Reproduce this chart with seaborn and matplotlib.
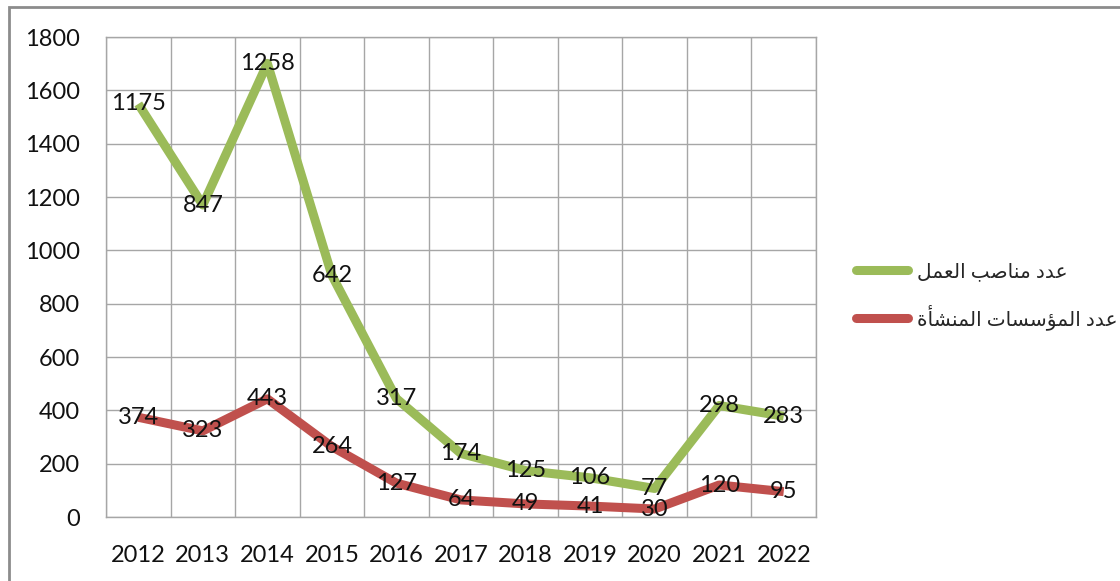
import numpy as np
import pandas as pd
import matplotlib
matplotlib.use("Agg")
import matplotlib.pyplot as plt
import seaborn as sns
from matplotlib.patches import Rectangle

# ---- data ----
years = ['2012', '2013', '2014', '2015', '2016', '2017', '2018', '2019', '2020', '2021', '2022']
jobs = [1175, 847, 1258, 642, 317, 174, 125, 106, 77, 298, 283]     # عدد مناصب العمل
firms = [374, 323, 443, 264, 127, 64, 49, 41, 30, 120, 95]          # عدد المؤسسات المنشأة
yticks = [0, 200, 400, 600, 800, 1000, 1200, 1400, 1600, 1800]
label_jobs = 'عدد مناصب العمل'
label_firms = 'عدد المؤسسات المنشأة'

GREEN = '#9BBB59'
RED = '#C0504D'
GRID = '#A6A6A6'

# ---- tiny Arabic shaper (matplotlib does no shaping / bidi) ----
FORMS = {  # isolated, final, initial, medial
    'ا': ('\uFE8D', '\uFE8E', None, None),
    'أ': ('\uFE83', '\uFE84', None, None),
    'ؤ': ('\uFE85', '\uFE86', None, None),
    'د': ('\uFEA9', '\uFEAA', None, None),
    'ة': ('\uFE93', '\uFE94', None, None),
    'ب': ('\uFE8F', '\uFE90', '\uFE91', '\uFE92'),
    'ت': ('\uFE95', '\uFE96', '\uFE97', '\uFE98'),
    'س': ('\uFEB1', '\uFEB2', '\uFEB3', '\uFEB4'),
    'ش': ('\uFEB5', '\uFEB6', '\uFEB7', '\uFEB8'),
    'ص': ('\uFEB9', '\uFEBA', '\uFEBB', '\uFEBC'),
    'ع': ('\uFEC9', '\uFECA', '\uFECB', '\uFECC'),
    'ل': ('\uFEDD', '\uFEDE', '\uFEDF', '\uFEE0'),
    'م': ('\uFEE1', '\uFEE2', '\uFEE3', '\uFEE4'),
    'ن': ('\uFEE5', '\uFEE6', '\uFEE7', '\uFEE8'),
}


def dual(ch):
    return ch in FORMS and FORMS[ch][2] is not None


def shape(text):
    out = []
    for i, ch in enumerate(text):
        if ch not in FORMS:
            out.append(ch)
            continue
        prev = text[i - 1] if i > 0 else ''
        nxt = text[i + 1] if i + 1 < len(text) else ''
        jp = dual(prev)
        jn = dual(ch) and nxt in FORMS
        iso, fin, ini, med = FORMS[ch]
        if jp and jn:
            out.append(med)
        elif jp:
            out.append(fin)
        elif jn:
            out.append(ini)
        else:
            out.append(iso)
    return ''.join(out)[::-1]


# stacked line chart: the upper series sits on top of the lower one
df = pd.DataFrame({'year': years, 'firms': firms, 'jobs': jobs})
df['jobs_top'] = df['firms'] + df['jobs']

sns.set_theme(style='white')
plt.rcParams['font.family'] = ['Lato', 'DejaVu Sans']

fig = plt.figure(figsize=(11.2, 5.81), dpi=100)
ax = fig.add_axes([106 / 1120, 1 - 517 / 581, 710 / 1120, 480 / 581])

sns.lineplot(data=df, x='year', y='jobs_top', color=GREEN, lw=6.5, ax=ax,
             label=shape(label_jobs), solid_capstyle='butt', sort=False)
sns.lineplot(data=df, x='year', y='firms', color=RED, lw=6.5, ax=ax,
             label=shape(label_firms), solid_capstyle='butt', sort=False)

# data labels centred on the points
for i in range(len(years)):
    ax.text(i, df['jobs_top'][i], str(jobs[i]), ha='center', va='center',
            fontsize=17, color='#111111')
    ax.text(i, firms[i], str(firms[i]), ha='center', va='center',
            fontsize=17, color='#111111')

ax.set_xlim(-0.5, len(years) - 0.5)
ax.set_ylim(0, 1800)
ax.set_yticks(yticks)
ax.set_xticks(range(len(years)))
ax.set_xticklabels(years)
ax.set_xticks(np.arange(-0.5, len(years)), minor=True)
ax.tick_params(axis='x', which='major', length=0, pad=20, labelsize=17, labelcolor='#111111')
ax.tick_params(axis='x', which='minor', length=9, width=1, color=GRID, direction='out')
ax.tick_params(axis='y', length=9, width=1, color=GRID, direction='out', pad=10,
               labelsize=17, labelcolor='#111111')
ax.set_xlabel('')
ax.set_ylabel('')

ax.grid(False)
ax.grid(True, which='minor', axis='x', color=GRID, lw=1)
ax.grid(True, which='major', axis='y', color=GRID, lw=1)
for s in ax.spines.values():
    s.set_color(GRID)
    s.set_linewidth(1)

leg = ax.legend(loc='center left', bbox_to_anchor=(856 / 1120, 1 - 296 / 581),
                bbox_transform=fig.transFigure, frameon=False, fontsize=14.5,
                handlelength=2.6, handletextpad=0.45, labelspacing=1.15,
                borderpad=0, borderaxespad=0)
for line in leg.get_lines():
    line.set_solid_capstyle('round')

# outer chart frame
fig.patches.append(Rectangle((9 / 1120, -0.05), 1.2, 1 - 7 / 581 + 0.05,
                             transform=fig.transFigure, fill=False,
                             edgecolor='#8C8C8C', lw=2))

fig.savefig('out.png', dpi=100)
